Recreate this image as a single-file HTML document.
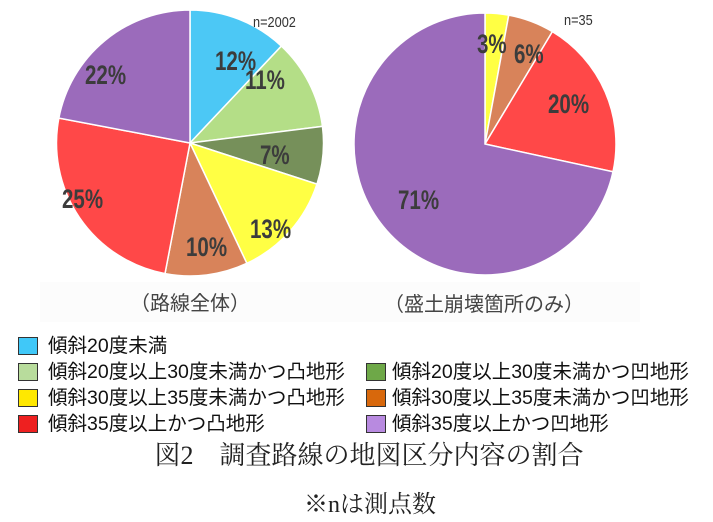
<!DOCTYPE html>
<html><head><meta charset="utf-8"><style>
html,body{margin:0;padding:0;background:#fff;}
body{width:713px;height:522px;overflow:hidden;position:relative;font-family:"Liberation Sans","Noto Sans CJK JP",sans-serif;}
.lg{position:absolute;font-size:19.5px;color:#111;white-space:nowrap;line-height:20px;}
.bx{position:absolute;width:20px;height:18px;border:1px solid #333;box-sizing:border-box;}
</style></head><body>
<svg id="s" width="713" height="522" style="position:absolute;left:0;top:0">
<rect x="40" y="282" width="600" height="40" fill="#fcfcfc"/>
<g id="p"></g>
<g font-family="Liberation Sans, sans-serif" font-weight="bold" font-size="27" fill="#3c3c3c">
<text transform="translate(215,70) scale(0.76,1)">12%</text>
<text transform="translate(245,89) scale(0.76,1)">11%</text>
<text transform="translate(260,164) scale(0.76,1)">7%</text>
<text transform="translate(250,238) scale(0.76,1)">13%</text>
<text transform="translate(186,256) scale(0.76,1)">10%</text>
<text transform="translate(62,208) scale(0.76,1)">25%</text>
<text transform="translate(85,84) scale(0.76,1)">22%</text>
<text transform="translate(477,53) scale(0.76,1)">3%</text>
<text transform="translate(514,63) scale(0.76,1)">6%</text>
<text transform="translate(548,113) scale(0.76,1)">20%</text>
<text transform="translate(398,209) scale(0.76,1)">71%</text>
</g>
<g font-family="Liberation Sans, sans-serif" font-size="15" fill="#333">
<text transform="translate(253,27) scale(0.85,1)">n=2002</text>
<text transform="translate(564,25) scale(0.85,1)">n=35</text>
</g>
<g font-family="Liberation Sans, Noto Sans CJK JP, sans-serif" font-size="20" fill="#444" text-anchor="middle">
<text x="190" y="310">（路線全体）</text>
<text x="484" y="311">（盛土崩壊箇所のみ）</text>
</g>
<g font-family="Liberation Serif, Noto Serif CJK SC, serif" fill="#222" text-anchor="middle">
<text x="369" y="464" font-size="26">図2　調査路線の地図区分内容の割合</text>
<text x="370" y="512" font-size="24">※nは測点数</text>
</g>
</svg>
<div class="bx" style="left:18px;top:337px;background:#40c8f8"></div><div class="lg" style="left:48px;top:336px">傾斜20度未満</div>
<div class="bx" style="left:18px;top:363px;background:#b8dc9c"></div><div class="lg" style="left:48px;top:362px">傾斜20度以上30度未満かつ凸地形</div>
<div class="bx" style="left:366px;top:363px;background:#6ea848"></div><div class="lg" style="left:392px;top:362px">傾斜20度以上30度未満かつ凹地形</div>
<div class="bx" style="left:18px;top:389px;background:#ffe800"></div><div class="lg" style="left:48px;top:388px">傾斜30度以上35度未満かつ凸地形</div>
<div class="bx" style="left:366px;top:389px;background:#d8680c"></div><div class="lg" style="left:392px;top:388px">傾斜30度以上35度未満かつ凹地形</div>
<div class="bx" style="left:18px;top:415px;background:#ee2020"></div><div class="lg" style="left:48px;top:414px">傾斜35度以上かつ凸地形</div>
<div class="bx" style="left:366px;top:415px;background:#b88ae0"></div><div class="lg" style="left:392px;top:414px">傾斜35度以上かつ凹地形</div>
<script>
function pie(cx,cy,rx,ry,data){
 var s='',a=0;
 data.forEach(function(d){
  var a0=a/100*2*Math.PI,a1=(a+d[0])/100*2*Math.PI;a+=d[0];
  var x0=cx+rx*Math.sin(a0),y0=cy-ry*Math.cos(a0),x1=cx+rx*Math.sin(a1),y1=cy-ry*Math.cos(a1);
  var lg=d[0]>50?1:0;
  s+='<path d="M'+cx+','+cy+' L'+x0.toFixed(2)+','+y0.toFixed(2)+' A'+rx+','+ry+' 0 '+lg+' 1 '+x1.toFixed(2)+','+y1.toFixed(2)+' Z" fill="'+d[1]+'" stroke="#fff" stroke-width="1.5"/>';
 });
 return s;
}
document.getElementById('p').innerHTML=
 pie(190,143,133.5,133,[[12,'#4cc8f5'],[11,'#b4de87'],[7,'#76905a'],[13,'#ffff44'],[10,'#d8835a'],[25,'#ff4848'],[22,'#9b6bbb']])+
 pie(485,144,131,131,[[2.9,'#ffff44'],[5.7,'#d8835a'],[19.8,'#ff4848'],[71.6,'#9b6bbb']]);
</script>
</body></html>
